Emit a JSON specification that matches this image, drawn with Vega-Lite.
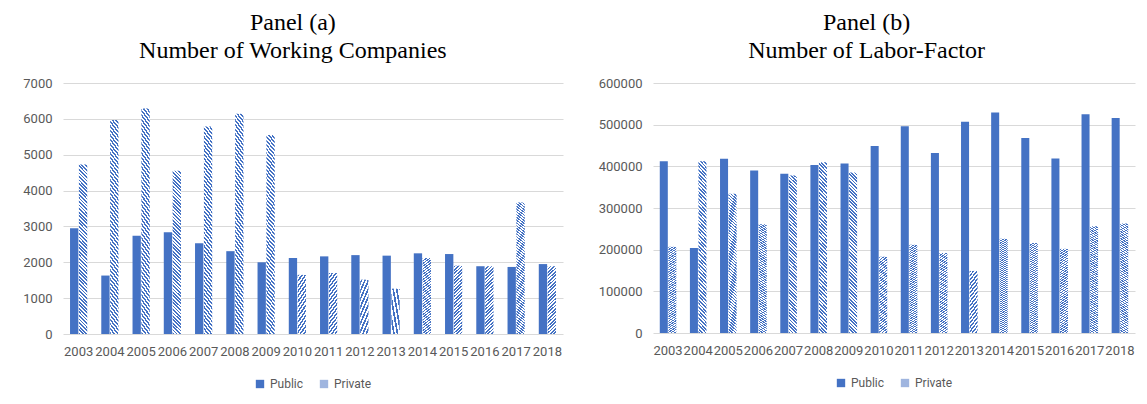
{
  "$schema": "https://vega.github.io/schema/vega-lite/v6.json",
  "background": "white",
  "padding": {"left": 22, "top": 11, "right": 5, "bottom": 5},
  "spacing": 35,
  "datasets": {
    "companies": [
      {"year": "2003", "series": "Public", "value": 2950}, {"year": "2003", "series": "Private", "value": 4730},
      {"year": "2004", "series": "Public", "value": 1630}, {"year": "2004", "series": "Private", "value": 5970},
      {"year": "2005", "series": "Public", "value": 2740}, {"year": "2005", "series": "Private", "value": 6290},
      {"year": "2006", "series": "Public", "value": 2840}, {"year": "2006", "series": "Private", "value": 4550},
      {"year": "2007", "series": "Public", "value": 2530}, {"year": "2007", "series": "Private", "value": 5790},
      {"year": "2008", "series": "Public", "value": 2310}, {"year": "2008", "series": "Private", "value": 6140},
      {"year": "2009", "series": "Public", "value": 2000}, {"year": "2009", "series": "Private", "value": 5550},
      {"year": "2010", "series": "Public", "value": 2120}, {"year": "2010", "series": "Private", "value": 1650},
      {"year": "2011", "series": "Public", "value": 2165}, {"year": "2011", "series": "Private", "value": 1700},
      {"year": "2012", "series": "Public", "value": 2200}, {"year": "2012", "series": "Private", "value": 1515},
      {"year": "2013", "series": "Public", "value": 2185}, {"year": "2013", "series": "Private", "value": 1265},
      {"year": "2014", "series": "Public", "value": 2250}, {"year": "2014", "series": "Private", "value": 2120},
      {"year": "2015", "series": "Public", "value": 2230}, {"year": "2015", "series": "Private", "value": 1905},
      {"year": "2016", "series": "Public", "value": 1890}, {"year": "2016", "series": "Private", "value": 1890},
      {"year": "2017", "series": "Public", "value": 1870}, {"year": "2017", "series": "Private", "value": 3670},
      {"year": "2018", "series": "Public", "value": 1950}, {"year": "2018", "series": "Private", "value": 1890}
    ],
    "labor": [
      {"year": "2003", "series": "Public", "value": 412000}, {"year": "2003", "series": "Private", "value": 207000},
      {"year": "2004", "series": "Public", "value": 204000}, {"year": "2004", "series": "Private", "value": 412000},
      {"year": "2005", "series": "Public", "value": 418000}, {"year": "2005", "series": "Private", "value": 334000},
      {"year": "2006", "series": "Public", "value": 390000}, {"year": "2006", "series": "Private", "value": 261000},
      {"year": "2007", "series": "Public", "value": 382000}, {"year": "2007", "series": "Private", "value": 378000},
      {"year": "2008", "series": "Public", "value": 403000}, {"year": "2008", "series": "Private", "value": 410000},
      {"year": "2009", "series": "Public", "value": 407000}, {"year": "2009", "series": "Private", "value": 385000},
      {"year": "2010", "series": "Public", "value": 449000}, {"year": "2010", "series": "Private", "value": 183000},
      {"year": "2011", "series": "Public", "value": 496000}, {"year": "2011", "series": "Private", "value": 212000},
      {"year": "2012", "series": "Public", "value": 432000}, {"year": "2012", "series": "Private", "value": 192000},
      {"year": "2013", "series": "Public", "value": 507000}, {"year": "2013", "series": "Private", "value": 149000},
      {"year": "2014", "series": "Public", "value": 529000}, {"year": "2014", "series": "Private", "value": 226000},
      {"year": "2015", "series": "Public", "value": 468000}, {"year": "2015", "series": "Private", "value": 216000},
      {"year": "2016", "series": "Public", "value": 419000}, {"year": "2016", "series": "Private", "value": 202000},
      {"year": "2017", "series": "Public", "value": 525000}, {"year": "2017", "series": "Private", "value": 256000},
      {"year": "2018", "series": "Public", "value": 516000}, {"year": "2018", "series": "Private", "value": 263000}
    ]
  },
  "resolve": {
    "scale": {"x": "independent", "y": "independent", "xOffset": "independent", "fill": "independent"},
    "legend": {"fill": "independent"},
    "axis": {"x": "independent", "y": "independent"}
  },
  "hconcat": [
    {
      "title": {"text": ["Panel (a)", "Number of Working Companies"]},
      "width": 500,
      "height": 251,
      "data": {"name": "companies"},
      "mark": {"type": "bar"},
      "encoding": {
        "x": {"field": "year", "type": "nominal", "scale": {"paddingInner": 0.45, "paddingOuter": 0.225}, "axis": {"title": null, "labelAngle": 0}},
        "xOffset": {"field": "series", "type": "nominal", "sort": ["Public", "Private"], "scale": {"domain": ["Public", "Private"], "paddingInner": 0.06}},
        "y": {"field": "value", "type": "quantitative", "scale": {"domain": [0, 7000]}, "axis": {"title": null, "values": [0, 1000, 2000, 3000, 4000, 5000, 6000, 7000], "format": "d", "grid": true}},
        "fill": {
          "field": "series", "type": "nominal",
          "scale": {"domain": ["Public", "Private"], "range": ["#4472c4", "#9fb5df"]},
          "legend": {"title": null},
          "condition": {"test": "datum.series === 'Private'", "value": {"gradient": "linear", "x1": 0, "y1": 1, "x2": 0.0524, "y2": -0.0474, "stops": [
            {"offset": 0, "color": "#4472c4"}, {"offset": 0.01, "color": "#4472c4"}, {"offset": 0.01, "color": "#ffffff"}, {"offset": 0.02, "color": "#ffffff"},
            {"offset": 0.02, "color": "#4472c4"}, {"offset": 0.03, "color": "#4472c4"}, {"offset": 0.03, "color": "#ffffff"}, {"offset": 0.04, "color": "#ffffff"},
            {"offset": 0.04, "color": "#4472c4"}, {"offset": 0.05, "color": "#4472c4"}, {"offset": 0.05, "color": "#ffffff"}, {"offset": 0.06, "color": "#ffffff"},
            {"offset": 0.06, "color": "#4472c4"}, {"offset": 0.07, "color": "#4472c4"}, {"offset": 0.07, "color": "#ffffff"}, {"offset": 0.08, "color": "#ffffff"},
            {"offset": 0.08, "color": "#4472c4"}, {"offset": 0.09, "color": "#4472c4"}, {"offset": 0.09, "color": "#ffffff"}, {"offset": 0.1, "color": "#ffffff"},
            {"offset": 0.1, "color": "#4472c4"}, {"offset": 0.11, "color": "#4472c4"}, {"offset": 0.11, "color": "#ffffff"}, {"offset": 0.12, "color": "#ffffff"},
            {"offset": 0.12, "color": "#4472c4"}, {"offset": 0.13, "color": "#4472c4"}, {"offset": 0.13, "color": "#ffffff"}, {"offset": 0.14, "color": "#ffffff"},
            {"offset": 0.14, "color": "#4472c4"}, {"offset": 0.15, "color": "#4472c4"}, {"offset": 0.15, "color": "#ffffff"}, {"offset": 0.16, "color": "#ffffff"},
            {"offset": 0.16, "color": "#4472c4"}, {"offset": 0.17, "color": "#4472c4"}, {"offset": 0.17, "color": "#ffffff"}, {"offset": 0.18, "color": "#ffffff"},
            {"offset": 0.18, "color": "#4472c4"}, {"offset": 0.19, "color": "#4472c4"}, {"offset": 0.19, "color": "#ffffff"}, {"offset": 0.2, "color": "#ffffff"},
            {"offset": 0.2, "color": "#4472c4"}, {"offset": 0.21, "color": "#4472c4"}, {"offset": 0.21, "color": "#ffffff"}, {"offset": 0.22, "color": "#ffffff"},
            {"offset": 0.22, "color": "#4472c4"}, {"offset": 0.23, "color": "#4472c4"}, {"offset": 0.23, "color": "#ffffff"}, {"offset": 0.24, "color": "#ffffff"},
            {"offset": 0.24, "color": "#4472c4"}, {"offset": 0.25, "color": "#4472c4"}, {"offset": 0.25, "color": "#ffffff"}, {"offset": 0.26, "color": "#ffffff"},
            {"offset": 0.26, "color": "#4472c4"}, {"offset": 0.27, "color": "#4472c4"}, {"offset": 0.27, "color": "#ffffff"}, {"offset": 0.28, "color": "#ffffff"},
            {"offset": 0.28, "color": "#4472c4"}, {"offset": 0.29, "color": "#4472c4"}, {"offset": 0.29, "color": "#ffffff"}, {"offset": 0.3, "color": "#ffffff"},
            {"offset": 0.3, "color": "#4472c4"}, {"offset": 0.31, "color": "#4472c4"}, {"offset": 0.31, "color": "#ffffff"}, {"offset": 0.32, "color": "#ffffff"},
            {"offset": 0.32, "color": "#4472c4"}, {"offset": 0.33, "color": "#4472c4"}, {"offset": 0.33, "color": "#ffffff"}, {"offset": 0.34, "color": "#ffffff"},
            {"offset": 0.34, "color": "#4472c4"}, {"offset": 0.35, "color": "#4472c4"}, {"offset": 0.35, "color": "#ffffff"}, {"offset": 0.36, "color": "#ffffff"},
            {"offset": 0.36, "color": "#4472c4"}, {"offset": 0.37, "color": "#4472c4"}, {"offset": 0.37, "color": "#ffffff"}, {"offset": 0.38, "color": "#ffffff"},
            {"offset": 0.38, "color": "#4472c4"}, {"offset": 0.39, "color": "#4472c4"}, {"offset": 0.39, "color": "#ffffff"}, {"offset": 0.4, "color": "#ffffff"},
            {"offset": 0.4, "color": "#4472c4"}, {"offset": 0.41, "color": "#4472c4"}, {"offset": 0.41, "color": "#ffffff"}, {"offset": 0.42, "color": "#ffffff"},
            {"offset": 0.42, "color": "#4472c4"}, {"offset": 0.43, "color": "#4472c4"}, {"offset": 0.43, "color": "#ffffff"}, {"offset": 0.44, "color": "#ffffff"},
            {"offset": 0.44, "color": "#4472c4"}, {"offset": 0.45, "color": "#4472c4"}, {"offset": 0.45, "color": "#ffffff"}, {"offset": 0.46, "color": "#ffffff"},
            {"offset": 0.46, "color": "#4472c4"}, {"offset": 0.47, "color": "#4472c4"}, {"offset": 0.47, "color": "#ffffff"}, {"offset": 0.48, "color": "#ffffff"},
            {"offset": 0.48, "color": "#4472c4"}, {"offset": 0.49, "color": "#4472c4"}, {"offset": 0.49, "color": "#ffffff"}, {"offset": 0.5, "color": "#ffffff"},
            {"offset": 0.5, "color": "#4472c4"}, {"offset": 0.51, "color": "#4472c4"}, {"offset": 0.51, "color": "#ffffff"}, {"offset": 0.52, "color": "#ffffff"},
            {"offset": 0.52, "color": "#4472c4"}, {"offset": 0.53, "color": "#4472c4"}, {"offset": 0.53, "color": "#ffffff"}, {"offset": 0.54, "color": "#ffffff"},
            {"offset": 0.54, "color": "#4472c4"}, {"offset": 0.55, "color": "#4472c4"}, {"offset": 0.55, "color": "#ffffff"}, {"offset": 0.56, "color": "#ffffff"},
            {"offset": 0.56, "color": "#4472c4"}, {"offset": 0.57, "color": "#4472c4"}, {"offset": 0.57, "color": "#ffffff"}, {"offset": 0.58, "color": "#ffffff"},
            {"offset": 0.58, "color": "#4472c4"}, {"offset": 0.59, "color": "#4472c4"}, {"offset": 0.59, "color": "#ffffff"}, {"offset": 0.6, "color": "#ffffff"},
            {"offset": 0.6, "color": "#4472c4"}, {"offset": 0.61, "color": "#4472c4"}, {"offset": 0.61, "color": "#ffffff"}, {"offset": 0.62, "color": "#ffffff"},
            {"offset": 0.62, "color": "#4472c4"}, {"offset": 0.63, "color": "#4472c4"}, {"offset": 0.63, "color": "#ffffff"}, {"offset": 0.64, "color": "#ffffff"},
            {"offset": 0.64, "color": "#4472c4"}, {"offset": 0.65, "color": "#4472c4"}, {"offset": 0.65, "color": "#ffffff"}, {"offset": 0.66, "color": "#ffffff"},
            {"offset": 0.66, "color": "#4472c4"}, {"offset": 0.67, "color": "#4472c4"}, {"offset": 0.67, "color": "#ffffff"}, {"offset": 0.68, "color": "#ffffff"},
            {"offset": 0.68, "color": "#4472c4"}, {"offset": 0.69, "color": "#4472c4"}, {"offset": 0.69, "color": "#ffffff"}, {"offset": 0.7, "color": "#ffffff"},
            {"offset": 0.7, "color": "#4472c4"}, {"offset": 0.71, "color": "#4472c4"}, {"offset": 0.71, "color": "#ffffff"}, {"offset": 0.72, "color": "#ffffff"},
            {"offset": 0.72, "color": "#4472c4"}, {"offset": 0.73, "color": "#4472c4"}, {"offset": 0.73, "color": "#ffffff"}, {"offset": 0.74, "color": "#ffffff"},
            {"offset": 0.74, "color": "#4472c4"}, {"offset": 0.75, "color": "#4472c4"}, {"offset": 0.75, "color": "#ffffff"}, {"offset": 0.76, "color": "#ffffff"},
            {"offset": 0.76, "color": "#4472c4"}, {"offset": 0.77, "color": "#4472c4"}, {"offset": 0.77, "color": "#ffffff"}, {"offset": 0.78, "color": "#ffffff"},
            {"offset": 0.78, "color": "#4472c4"}, {"offset": 0.79, "color": "#4472c4"}, {"offset": 0.79, "color": "#ffffff"}, {"offset": 0.8, "color": "#ffffff"},
            {"offset": 0.8, "color": "#4472c4"}, {"offset": 0.81, "color": "#4472c4"}, {"offset": 0.81, "color": "#ffffff"}, {"offset": 0.82, "color": "#ffffff"},
            {"offset": 0.82, "color": "#4472c4"}, {"offset": 0.83, "color": "#4472c4"}, {"offset": 0.83, "color": "#ffffff"}, {"offset": 0.84, "color": "#ffffff"},
            {"offset": 0.84, "color": "#4472c4"}, {"offset": 0.85, "color": "#4472c4"}, {"offset": 0.85, "color": "#ffffff"}, {"offset": 0.86, "color": "#ffffff"},
            {"offset": 0.86, "color": "#4472c4"}, {"offset": 0.87, "color": "#4472c4"}, {"offset": 0.87, "color": "#ffffff"}, {"offset": 0.88, "color": "#ffffff"},
            {"offset": 0.88, "color": "#4472c4"}, {"offset": 0.89, "color": "#4472c4"}, {"offset": 0.89, "color": "#ffffff"}, {"offset": 0.9, "color": "#ffffff"},
            {"offset": 0.9, "color": "#4472c4"}, {"offset": 0.91, "color": "#4472c4"}, {"offset": 0.91, "color": "#ffffff"}, {"offset": 0.92, "color": "#ffffff"},
            {"offset": 0.92, "color": "#4472c4"}, {"offset": 0.93, "color": "#4472c4"}, {"offset": 0.93, "color": "#ffffff"}, {"offset": 0.94, "color": "#ffffff"},
            {"offset": 0.94, "color": "#4472c4"}, {"offset": 0.95, "color": "#4472c4"}, {"offset": 0.95, "color": "#ffffff"}, {"offset": 0.96, "color": "#ffffff"},
            {"offset": 0.96, "color": "#4472c4"}, {"offset": 0.97, "color": "#4472c4"}, {"offset": 0.97, "color": "#ffffff"}, {"offset": 0.98, "color": "#ffffff"},
            {"offset": 0.98, "color": "#4472c4"}, {"offset": 0.99, "color": "#4472c4"}, {"offset": 0.99, "color": "#ffffff"}, {"offset": 1, "color": "#ffffff"}
          ]}}
        }
      }
    },
    {
      "title": {"text": ["Panel (b)", "Number of Labor-Factor"]},
      "width": 482,
      "height": 250,
      "data": {"name": "labor"},
      "mark": {"type": "bar"},
      "encoding": {
        "x": {"field": "year", "type": "nominal", "scale": {"paddingInner": 0.45, "paddingOuter": 0.225}, "axis": {"title": null, "labelAngle": 0}},
        "xOffset": {"field": "series", "type": "nominal", "sort": ["Public", "Private"], "scale": {"domain": ["Public", "Private"], "paddingInner": 0.06}},
        "y": {"field": "value", "type": "quantitative", "scale": {"domain": [0, 600000]}, "axis": {"title": null, "values": [0, 100000, 200000, 300000, 400000, 500000, 600000], "format": "d", "grid": true}},
        "fill": {
          "field": "series", "type": "nominal",
          "scale": {"domain": ["Public", "Private"], "range": ["#4472c4", "#9fb5df"]},
          "legend": {"title": null},
          "condition": {"test": "datum.series === 'Private'", "value": {"gradient": "linear", "x1": 0, "y1": 1, "x2": 0.0524, "y2": -0.0474, "stops": [
            {"offset": 0, "color": "#4472c4"}, {"offset": 0.01, "color": "#4472c4"}, {"offset": 0.01, "color": "#ffffff"}, {"offset": 0.02, "color": "#ffffff"},
            {"offset": 0.02, "color": "#4472c4"}, {"offset": 0.03, "color": "#4472c4"}, {"offset": 0.03, "color": "#ffffff"}, {"offset": 0.04, "color": "#ffffff"},
            {"offset": 0.04, "color": "#4472c4"}, {"offset": 0.05, "color": "#4472c4"}, {"offset": 0.05, "color": "#ffffff"}, {"offset": 0.06, "color": "#ffffff"},
            {"offset": 0.06, "color": "#4472c4"}, {"offset": 0.07, "color": "#4472c4"}, {"offset": 0.07, "color": "#ffffff"}, {"offset": 0.08, "color": "#ffffff"},
            {"offset": 0.08, "color": "#4472c4"}, {"offset": 0.09, "color": "#4472c4"}, {"offset": 0.09, "color": "#ffffff"}, {"offset": 0.1, "color": "#ffffff"},
            {"offset": 0.1, "color": "#4472c4"}, {"offset": 0.11, "color": "#4472c4"}, {"offset": 0.11, "color": "#ffffff"}, {"offset": 0.12, "color": "#ffffff"},
            {"offset": 0.12, "color": "#4472c4"}, {"offset": 0.13, "color": "#4472c4"}, {"offset": 0.13, "color": "#ffffff"}, {"offset": 0.14, "color": "#ffffff"},
            {"offset": 0.14, "color": "#4472c4"}, {"offset": 0.15, "color": "#4472c4"}, {"offset": 0.15, "color": "#ffffff"}, {"offset": 0.16, "color": "#ffffff"},
            {"offset": 0.16, "color": "#4472c4"}, {"offset": 0.17, "color": "#4472c4"}, {"offset": 0.17, "color": "#ffffff"}, {"offset": 0.18, "color": "#ffffff"},
            {"offset": 0.18, "color": "#4472c4"}, {"offset": 0.19, "color": "#4472c4"}, {"offset": 0.19, "color": "#ffffff"}, {"offset": 0.2, "color": "#ffffff"},
            {"offset": 0.2, "color": "#4472c4"}, {"offset": 0.21, "color": "#4472c4"}, {"offset": 0.21, "color": "#ffffff"}, {"offset": 0.22, "color": "#ffffff"},
            {"offset": 0.22, "color": "#4472c4"}, {"offset": 0.23, "color": "#4472c4"}, {"offset": 0.23, "color": "#ffffff"}, {"offset": 0.24, "color": "#ffffff"},
            {"offset": 0.24, "color": "#4472c4"}, {"offset": 0.25, "color": "#4472c4"}, {"offset": 0.25, "color": "#ffffff"}, {"offset": 0.26, "color": "#ffffff"},
            {"offset": 0.26, "color": "#4472c4"}, {"offset": 0.27, "color": "#4472c4"}, {"offset": 0.27, "color": "#ffffff"}, {"offset": 0.28, "color": "#ffffff"},
            {"offset": 0.28, "color": "#4472c4"}, {"offset": 0.29, "color": "#4472c4"}, {"offset": 0.29, "color": "#ffffff"}, {"offset": 0.3, "color": "#ffffff"},
            {"offset": 0.3, "color": "#4472c4"}, {"offset": 0.31, "color": "#4472c4"}, {"offset": 0.31, "color": "#ffffff"}, {"offset": 0.32, "color": "#ffffff"},
            {"offset": 0.32, "color": "#4472c4"}, {"offset": 0.33, "color": "#4472c4"}, {"offset": 0.33, "color": "#ffffff"}, {"offset": 0.34, "color": "#ffffff"},
            {"offset": 0.34, "color": "#4472c4"}, {"offset": 0.35, "color": "#4472c4"}, {"offset": 0.35, "color": "#ffffff"}, {"offset": 0.36, "color": "#ffffff"},
            {"offset": 0.36, "color": "#4472c4"}, {"offset": 0.37, "color": "#4472c4"}, {"offset": 0.37, "color": "#ffffff"}, {"offset": 0.38, "color": "#ffffff"},
            {"offset": 0.38, "color": "#4472c4"}, {"offset": 0.39, "color": "#4472c4"}, {"offset": 0.39, "color": "#ffffff"}, {"offset": 0.4, "color": "#ffffff"},
            {"offset": 0.4, "color": "#4472c4"}, {"offset": 0.41, "color": "#4472c4"}, {"offset": 0.41, "color": "#ffffff"}, {"offset": 0.42, "color": "#ffffff"},
            {"offset": 0.42, "color": "#4472c4"}, {"offset": 0.43, "color": "#4472c4"}, {"offset": 0.43, "color": "#ffffff"}, {"offset": 0.44, "color": "#ffffff"},
            {"offset": 0.44, "color": "#4472c4"}, {"offset": 0.45, "color": "#4472c4"}, {"offset": 0.45, "color": "#ffffff"}, {"offset": 0.46, "color": "#ffffff"},
            {"offset": 0.46, "color": "#4472c4"}, {"offset": 0.47, "color": "#4472c4"}, {"offset": 0.47, "color": "#ffffff"}, {"offset": 0.48, "color": "#ffffff"},
            {"offset": 0.48, "color": "#4472c4"}, {"offset": 0.49, "color": "#4472c4"}, {"offset": 0.49, "color": "#ffffff"}, {"offset": 0.5, "color": "#ffffff"},
            {"offset": 0.5, "color": "#4472c4"}, {"offset": 0.51, "color": "#4472c4"}, {"offset": 0.51, "color": "#ffffff"}, {"offset": 0.52, "color": "#ffffff"},
            {"offset": 0.52, "color": "#4472c4"}, {"offset": 0.53, "color": "#4472c4"}, {"offset": 0.53, "color": "#ffffff"}, {"offset": 0.54, "color": "#ffffff"},
            {"offset": 0.54, "color": "#4472c4"}, {"offset": 0.55, "color": "#4472c4"}, {"offset": 0.55, "color": "#ffffff"}, {"offset": 0.56, "color": "#ffffff"},
            {"offset": 0.56, "color": "#4472c4"}, {"offset": 0.57, "color": "#4472c4"}, {"offset": 0.57, "color": "#ffffff"}, {"offset": 0.58, "color": "#ffffff"},
            {"offset": 0.58, "color": "#4472c4"}, {"offset": 0.59, "color": "#4472c4"}, {"offset": 0.59, "color": "#ffffff"}, {"offset": 0.6, "color": "#ffffff"},
            {"offset": 0.6, "color": "#4472c4"}, {"offset": 0.61, "color": "#4472c4"}, {"offset": 0.61, "color": "#ffffff"}, {"offset": 0.62, "color": "#ffffff"},
            {"offset": 0.62, "color": "#4472c4"}, {"offset": 0.63, "color": "#4472c4"}, {"offset": 0.63, "color": "#ffffff"}, {"offset": 0.64, "color": "#ffffff"},
            {"offset": 0.64, "color": "#4472c4"}, {"offset": 0.65, "color": "#4472c4"}, {"offset": 0.65, "color": "#ffffff"}, {"offset": 0.66, "color": "#ffffff"},
            {"offset": 0.66, "color": "#4472c4"}, {"offset": 0.67, "color": "#4472c4"}, {"offset": 0.67, "color": "#ffffff"}, {"offset": 0.68, "color": "#ffffff"},
            {"offset": 0.68, "color": "#4472c4"}, {"offset": 0.69, "color": "#4472c4"}, {"offset": 0.69, "color": "#ffffff"}, {"offset": 0.7, "color": "#ffffff"},
            {"offset": 0.7, "color": "#4472c4"}, {"offset": 0.71, "color": "#4472c4"}, {"offset": 0.71, "color": "#ffffff"}, {"offset": 0.72, "color": "#ffffff"},
            {"offset": 0.72, "color": "#4472c4"}, {"offset": 0.73, "color": "#4472c4"}, {"offset": 0.73, "color": "#ffffff"}, {"offset": 0.74, "color": "#ffffff"},
            {"offset": 0.74, "color": "#4472c4"}, {"offset": 0.75, "color": "#4472c4"}, {"offset": 0.75, "color": "#ffffff"}, {"offset": 0.76, "color": "#ffffff"},
            {"offset": 0.76, "color": "#4472c4"}, {"offset": 0.77, "color": "#4472c4"}, {"offset": 0.77, "color": "#ffffff"}, {"offset": 0.78, "color": "#ffffff"},
            {"offset": 0.78, "color": "#4472c4"}, {"offset": 0.79, "color": "#4472c4"}, {"offset": 0.79, "color": "#ffffff"}, {"offset": 0.8, "color": "#ffffff"},
            {"offset": 0.8, "color": "#4472c4"}, {"offset": 0.81, "color": "#4472c4"}, {"offset": 0.81, "color": "#ffffff"}, {"offset": 0.82, "color": "#ffffff"},
            {"offset": 0.82, "color": "#4472c4"}, {"offset": 0.83, "color": "#4472c4"}, {"offset": 0.83, "color": "#ffffff"}, {"offset": 0.84, "color": "#ffffff"},
            {"offset": 0.84, "color": "#4472c4"}, {"offset": 0.85, "color": "#4472c4"}, {"offset": 0.85, "color": "#ffffff"}, {"offset": 0.86, "color": "#ffffff"},
            {"offset": 0.86, "color": "#4472c4"}, {"offset": 0.87, "color": "#4472c4"}, {"offset": 0.87, "color": "#ffffff"}, {"offset": 0.88, "color": "#ffffff"},
            {"offset": 0.88, "color": "#4472c4"}, {"offset": 0.89, "color": "#4472c4"}, {"offset": 0.89, "color": "#ffffff"}, {"offset": 0.9, "color": "#ffffff"},
            {"offset": 0.9, "color": "#4472c4"}, {"offset": 0.91, "color": "#4472c4"}, {"offset": 0.91, "color": "#ffffff"}, {"offset": 0.92, "color": "#ffffff"},
            {"offset": 0.92, "color": "#4472c4"}, {"offset": 0.93, "color": "#4472c4"}, {"offset": 0.93, "color": "#ffffff"}, {"offset": 0.94, "color": "#ffffff"},
            {"offset": 0.94, "color": "#4472c4"}, {"offset": 0.95, "color": "#4472c4"}, {"offset": 0.95, "color": "#ffffff"}, {"offset": 0.96, "color": "#ffffff"},
            {"offset": 0.96, "color": "#4472c4"}, {"offset": 0.97, "color": "#4472c4"}, {"offset": 0.97, "color": "#ffffff"}, {"offset": 0.98, "color": "#ffffff"},
            {"offset": 0.98, "color": "#4472c4"}, {"offset": 0.99, "color": "#4472c4"}, {"offset": 0.99, "color": "#ffffff"}, {"offset": 1, "color": "#ffffff"}
          ]}}
        }
      }
    }
  ],
  "config": {
    "view": {"stroke": null},
    "title": {"font": "Liberation Serif", "fontSize": 24, "fontWeight": "normal", "color": "#000000", "lineHeight": 28, "anchor": "middle", "frame": "bounds", "offset": 14},
    "axis": {"labelFont": "Roboto", "labelFontSize": 13, "labelColor": "#595959", "domain": false, "ticks": false, "gridColor": "#d9d9d9", "gridWidth": 1},
    "axisX": {"labelPadding": 11, "grid": false},
    "axisY": {"labelPadding": 11},
    "legend": {"orient": "bottom", "direction": "horizontal", "labelFont": "Roboto", "labelFontSize": 12, "labelColor": "#595959", "symbolType": "square", "symbolSize": 70, "symbolStrokeWidth": 0, "columnPadding": 14, "offset": 20, "layout": {"bottom": {"anchor": "middle"}}}
  }
}
